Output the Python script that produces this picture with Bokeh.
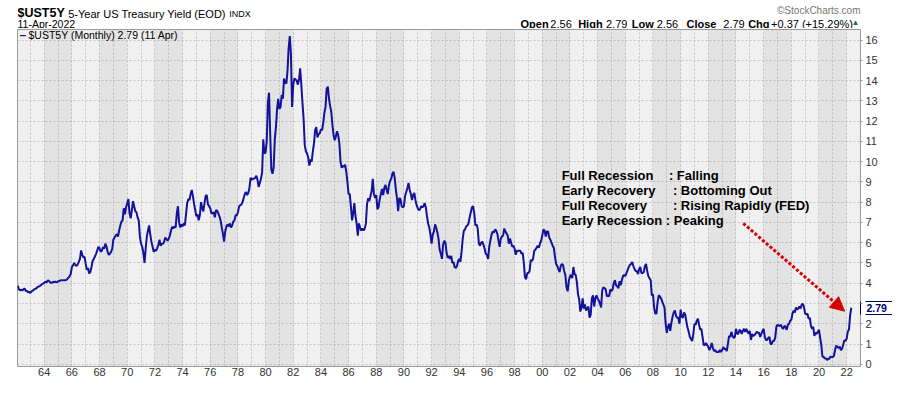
from bokeh.plotting import figure
from bokeh.layouts import column
from bokeh.models import (FixedTicker, CustomJSTickFormatter, Label, BoxAnnotation,
                          Arrow, NormalHead, Range1d, ColumnDataSource, LinearAxis)
from bokeh.embed import file_html
from bokeh.resources import INLINE

# ---------------- data (monthly close, 5-Year US Treasury Yield, %) ----------------
START_YEAR = 1962
Y_1960S = [
    3.88, 3.70, 3.65, 3.68, 3.64, 3.70, 3.74, 3.62, 3.62, 3.55, 3.58, 3.52,
    3.60, 3.63, 3.68, 3.72, 3.74, 3.80, 3.84, 3.85, 3.90, 3.95, 3.98, 4.02,
    4.07, 4.04, 4.14, 4.12, 4.05, 4.02, 4.03, 4.06, 4.08, 4.06, 4.05, 4.10,
    4.10, 4.14, 4.15, 4.14, 4.15, 4.15, 4.16, 4.20, 4.27, 4.34, 4.46, 4.80,
    4.88, 5.00, 4.90, 4.85, 4.92, 5.05, 5.20, 5.62, 5.40, 5.28, 5.30, 4.95,
    4.66, 4.75, 4.48, 4.55, 4.80, 5.10, 5.20, 5.32, 5.45, 5.62, 5.80, 5.72,
    5.55, 5.60, 5.78, 5.70, 5.95, 5.82, 5.55, 5.40, 5.45, 5.55, 5.70, 6.15,
    6.25, 6.35, 6.42, 6.30, 6.60, 6.85, 7.05, 7.10, 7.70, 7.40, 7.75, 7.95,
]
Y_1970S = [
    8.15, 7.45, 7.20, 7.60, 8.05, 7.80, 7.55, 7.50, 7.25, 7.10, 6.30, 5.95,
    5.80, 5.50, 5.00, 5.70, 6.30, 6.60, 6.85, 6.40, 6.05, 5.80, 5.55, 5.65,
    5.60, 5.72, 5.90, 6.15, 5.85, 5.95, 5.95, 6.05, 6.25, 6.18, 6.10, 6.20,
    6.35, 6.60, 6.78, 6.70, 6.80, 6.75, 7.45, 7.80, 7.00, 6.75, 6.90, 6.80,
    6.95, 6.85, 7.40, 7.95, 8.15, 8.10, 8.40, 8.60, 8.30, 7.90, 7.60, 7.30,
    7.40, 7.10, 7.35, 8.00, 7.70, 7.55, 7.95, 8.30, 8.35, 7.90, 7.80, 7.70,
    7.45, 7.45, 7.50, 7.25, 7.60, 7.58, 7.45, 7.30, 7.10, 6.75, 6.45, 6.05,
    6.55, 6.80, 6.90, 6.80, 6.95, 6.75, 6.85, 7.05, 7.10, 7.35, 7.35, 7.50,
    7.78, 7.85, 7.88, 8.00, 8.20, 8.40, 8.50, 8.35, 8.45, 8.70, 9.20, 9.10,
    9.15, 9.15, 9.20, 9.30, 9.10, 8.75, 8.95, 9.15, 9.45, 11.10, 10.40, 10.45,
]
Y_1980S = [
    11.00, 12.90, 13.40, 11.40, 9.60, 9.40, 9.70, 11.10, 11.70, 12.60, 13.10, 12.60,
    12.70, 13.30, 13.10, 14.10, 13.90, 13.85, 14.45, 15.60, 16.20, 15.30, 12.70, 13.80,
    14.10, 14.05, 14.00, 13.80, 14.05, 14.60, 13.80, 12.90, 12.10, 10.80, 10.50, 10.40,
    10.20, 9.80, 10.10, 10.00, 10.50, 10.90, 11.55, 11.70, 11.20, 11.35, 11.40, 11.60,
    11.55, 11.90, 12.40, 12.70, 13.60, 13.70, 13.10, 12.75, 12.45, 11.80, 11.30, 11.05,
    11.25, 11.50, 11.30, 10.90, 10.00, 9.70, 9.80, 9.75, 9.85, 9.50, 9.00, 8.40,
    8.40, 7.80, 7.10, 7.45, 7.95, 7.30, 6.95, 6.35, 6.95, 6.75, 6.60, 6.70,
    6.60, 6.70, 6.95, 7.90, 8.20, 8.05, 8.30, 8.55, 9.15, 8.40, 8.20, 8.35,
    7.65, 7.75, 8.15, 8.40, 8.65, 8.35, 8.70, 8.85, 8.60, 8.40, 8.85, 9.05,
    9.15, 9.40, 9.50, 9.20, 8.60, 8.20, 7.55, 8.20, 8.15, 7.80, 7.75, 7.80,
]
Y_1990S = [
    8.30, 8.50, 8.70, 8.95, 8.60, 8.40, 8.10, 8.35, 8.45, 8.10, 7.85, 7.70,
    7.60, 7.65, 7.80, 7.75, 7.80, 7.95, 7.75, 7.30, 6.95, 6.75, 6.40, 5.95,
    6.40, 6.55, 6.90, 6.75, 6.50, 6.20, 5.65, 5.45, 5.20, 5.90, 6.10, 6.00,
    5.50, 5.25, 5.35, 5.20, 5.35, 5.00, 5.05, 4.80, 4.75, 4.85, 5.10, 5.20,
    5.05, 5.55, 6.20, 6.60, 6.65, 6.80, 6.85, 6.95, 7.25, 7.50, 7.75, 7.80,
    7.45, 6.85, 6.90, 6.70, 5.95, 5.85, 6.00, 6.05, 5.90, 5.70, 5.45, 5.40,
    5.20, 5.80, 6.10, 6.40, 6.55, 6.50, 6.65, 6.60, 6.45, 6.10, 5.80, 6.20,
    6.30, 6.35, 6.70, 6.55, 6.45, 6.35, 5.95, 6.20, 6.00, 5.80, 5.85, 5.70,
    5.40, 5.60, 5.60, 5.60, 5.60, 5.45, 5.50, 5.00, 4.30, 4.20, 4.50, 4.50,
    4.60, 5.15, 5.10, 5.20, 5.60, 5.65, 5.75, 5.85, 5.75, 5.95, 6.10, 6.35,
]
Y_2000S = [
    6.65, 6.60, 6.30, 6.55, 6.55, 6.25, 6.15, 6.00, 5.85, 5.75, 5.30, 4.95,
    4.85, 4.70, 4.55, 4.85, 4.95, 4.90, 4.60, 4.40, 3.80, 3.60, 4.10, 4.35,
    4.40, 4.25, 4.80, 4.45, 4.40, 4.05, 3.45, 3.20, 2.60, 2.80, 3.25, 2.75,
    2.95, 2.65, 2.75, 2.85, 2.30, 2.45, 3.25, 3.40, 2.85, 3.25, 3.40, 3.25,
    3.15, 3.00, 2.80, 3.65, 3.80, 3.75, 3.70, 3.35, 3.40, 3.35, 3.70, 3.60,
    3.70, 4.00, 4.15, 3.90, 3.85, 3.75, 4.10, 3.90, 4.15, 4.35, 4.40, 4.35,
    4.50, 4.65, 4.80, 4.90, 4.95, 5.05, 4.85, 4.70, 4.60, 4.60, 4.45, 4.70,
    4.80, 4.50, 4.50, 4.55, 4.85, 4.95, 4.60, 4.35, 4.25, 4.15, 3.40, 3.45,
    2.80, 2.50, 2.50, 3.05, 3.40, 3.35, 3.25, 3.10, 2.95, 2.80, 2.00, 1.55,
    1.85, 2.00, 1.65, 2.05, 2.35, 2.55, 2.65, 2.40, 2.30, 2.30, 2.00, 2.70,
]
Y_2010S = [
    2.35, 2.30, 2.55, 2.45, 2.10, 1.80, 1.60, 1.35, 1.25, 1.15, 1.50, 2.00,
    1.95, 2.15, 2.25, 1.95, 1.70, 1.75, 1.35, 0.95, 0.95, 1.05, 0.95, 0.85,
    0.70, 0.85, 1.05, 0.80, 0.65, 0.70, 0.60, 0.60, 0.60, 0.70, 0.60, 0.70,
    0.85, 0.75, 0.75, 0.65, 1.00, 1.40, 1.35, 1.60, 1.40, 1.30, 1.35, 1.75,
    1.50, 1.50, 1.70, 1.65, 1.50, 1.65, 1.75, 1.60, 1.75, 1.60, 1.50, 1.65,
    1.20, 1.50, 1.40, 1.45, 1.50, 1.60, 1.55, 1.55, 1.35, 1.50, 1.65, 1.75,
    1.35, 1.20, 1.20, 1.30, 1.35, 1.00, 1.00, 1.15, 1.15, 1.30, 1.85, 1.95,
    1.90, 1.90, 1.95, 1.80, 1.75, 1.90, 1.85, 1.70, 1.95, 2.00, 2.15, 2.20,
    2.50, 2.65, 2.55, 2.80, 2.70, 2.75, 2.85, 2.75, 2.95, 2.98, 2.82, 2.50,
    2.45, 2.50, 2.25, 2.30, 1.90, 1.75, 1.85, 1.40, 1.55, 1.50, 1.60, 1.70,
]
Y_2020S = [
    1.30, 0.95, 0.38, 0.36, 0.30, 0.29, 0.21, 0.27, 0.27, 0.38, 0.36, 0.36,
    0.42, 0.73, 0.92, 0.85, 0.80, 0.87, 0.69, 0.77, 0.96, 1.18, 1.16, 1.26,
    1.62, 1.71, 2.42, 2.79,
]

X_TICK_YEARS = list(range(1964, 2023, 2))
GRID_YEARS = list(range(1963, 2023))
Y_TICKS = list(range(0, 17))
LAST_VALUE = 2.79

STAGE_LABELS = ["Full Recession", "Early Recovery", "Full Recovery", "Early Recession"]
STAGE_TEXTS = [": Falling", ": Bottoming Out", ": Rising Rapidly (FED)", ": Peaking"]

yields = Y_1960S + Y_1970S + Y_1980S + Y_1990S + Y_2000S + Y_2010S + Y_2020S
dates = [START_YEAR + (i + 1) / 12 for i in range(len(yields))]
src = ColumnDataSource(dict(x=dates, y=yields))

FONT = "Liberation Sans"
NAVY = "#12129a"
TAG = "#000066"
W = 892          # total width
HH = 28          # header strip height
H = 352          # chart height  (HH + H = 380)
FL, FT = 17, 1   # frame left / top inside the chart figure
FR = 865         # frame right
FB = 338         # frame bottom (chart-figure pixels)

# ---------------- header strip (its frame is aligned with the chart frame) ----------
hdr = figure(width=W, height=HH, x_range=Range1d(FL, FR), y_range=Range1d(HH, 0),
             x_axis_location=None, y_axis_location=None, toolbar_location=None,
             output_backend="svg", min_border=0)
hdr.outline_line_color = None
hdr.background_fill_color = "white"
hdr.border_fill_color = "white"
hdr.grid.visible = False


def hlab(text, x, y, size="11px", style="normal", color="black", align="left"):
    hdr.add_layout(Label(x=x, y=y, text=text, text_font=FONT, text_font_size=size,
                         text_font_style=style, text_color=color, text_align=align,
                         text_baseline="middle"))


hlab("$UST5Y", 17, 12, size="12.5px", style="bold")
hlab("5-Year US Treasury Yield (EOD)", 68, 13)
hlab("INDX", 230, 13, size="9px")
hlab("11-Apr-2022", 17, 23, size="10.5px")
hlab("\u00a9StockCharts.com", 865, 10, size="10px", color="#777777", align="right")
for t, x, s in [("Open", 523, "bold"), ("2.56", 553, "normal"), ("High", 581, "bold"),
                ("2.79", 609, "normal"), ("Low", 635, "bold"), ("2.56", 660, "normal"),
                ("Close", 690, "bold"), ("2.79", 727, "normal"), ("Chg", 752, "bold"),
                ("+0.37 (+15.29%)", 775, "normal")]:
    hlab(t, x, 23, style=s)
hlab("\u25b2", 860, 22, size="8px", color="#2e6b2e", align="center")

# ---------------- main chart ----------------
p = figure(width=W, height=H,
           x_range=Range1d(1962.07, 2023.0), y_range=Range1d(-0.11, 16.52),
           y_axis_location="right", toolbar_location=None, output_backend="svg",
           min_border_left=FL, min_border_right=W - FR, min_border_top=FT,
           min_border_bottom=H - FB)

p.background_fill_color = "#f0f0f0"
p.border_fill_color = "white"
p.outline_line_color = "#9a9a9a"

# alternating shaded bands (2-year blocks every 4 years)
for yr in range(1964, 2023, 4):
    p.add_layout(BoxAnnotation(left=yr, right=yr + 2, fill_color="black", fill_alpha=0.05,
                               line_alpha=0, level="underlay"))

p.xgrid.ticker = FixedTicker(ticks=GRID_YEARS)
p.ygrid.ticker = FixedTicker(ticks=Y_TICKS)
for g in (p.xgrid, p.ygrid):
    g.grid_line_color = "#c4c4c4"
    g.grid_line_dash = "2 2"
    g.grid_line_width = 1

p.xaxis.ticker = FixedTicker(ticks=X_TICK_YEARS)
p.xaxis.formatter = CustomJSTickFormatter(
    code="const y = Math.round(tick) % 100; return (y < 10 ? '0' : '') + y;")
p.xaxis.axis_line_color = None
p.xaxis.major_tick_line_color = None
p.xaxis.major_tick_out = 0
p.xaxis.major_tick_in = 0
p.xaxis.minor_tick_line_color = None
p.xaxis.minor_tick_out = 0
p.xaxis.major_label_standoff = 1
p.xaxis.major_label_text_font = FONT
p.xaxis.major_label_text_font_size = "11px"
p.xaxis.major_label_text_color = "#333333"

main_y = p.yaxis[0]
main_y.ticker = FixedTicker(ticks=Y_TICKS)
main_y.axis_line_color = None
main_y.major_tick_line_color = "#999999"
main_y.major_tick_in = 0
main_y.major_tick_out = 2
main_y.minor_tick_line_color = None
main_y.minor_tick_out = 0
main_y.major_label_standoff = 3
main_y.major_label_text_font = FONT
main_y.major_label_text_font_size = "11px"
main_y.major_label_text_color = "#333333"
# the "3" tick label sits under the last-value tag in the reference
main_y.major_label_overrides = {3: ""}

# ----- last-value tag built from extra right axes (box edges + bold value) -----
TAG_HALF = 0.32
lo, hi = LAST_VALUE - TAG_HALF, LAST_VALUE + TAG_HALF

edge_axis = LinearAxis(ticker=FixedTicker(ticks=[]), bounds=(lo, hi))
edge_axis.axis_line_color = TAG
edge_axis.major_tick_in = 0
edge_axis.major_tick_out = 0
edge_axis.minor_tick_in = 0
edge_axis.minor_tick_out = 0
edge_axis.major_label_standoff = 0

tag_axis = LinearAxis(ticker=FixedTicker(ticks=[LAST_VALUE]))
tag_axis.axis_line_color = None
tag_axis.major_tick_line_color = None
tag_axis.major_tick_in = 0
tag_axis.major_tick_out = 0
tag_axis.minor_tick_line_color = None
tag_axis.minor_tick_out = 0
tag_axis.major_label_standoff = -17
tag_axis.major_label_overrides = {LAST_VALUE: "\u00a02.79\u00a0"}
tag_axis.major_label_text_font = FONT
tag_axis.major_label_text_font_size = "10.5px"
tag_axis.major_label_text_font_style = "bold"
tag_axis.major_label_text_color = TAG

box_axis = LinearAxis(ticker=FixedTicker(ticks=[lo, hi]), bounds=(lo, hi))
box_axis.axis_line_color = TAG
box_axis.major_tick_line_color = TAG
box_axis.major_tick_in = 27
box_axis.major_tick_out = 0
box_axis.minor_tick_line_color = None
box_axis.minor_tick_in = 0
box_axis.minor_tick_out = 0
box_axis.major_label_standoff = 0
box_axis.major_label_overrides = {lo: "", hi: ""}

p.right = [edge_axis] + list(p.right) + [tag_axis, box_axis]

# the series
p.line("x", "y", source=src, line_color=NAVY, line_width=2)


def lab(text, x, y, size="11px", style="normal", color="black", xu="data", yu="data"):
    p.add_layout(Label(x=x, y=y, x_units=xu, y_units=yu, text=text, text_font=FONT,
                       text_font_size=size, text_font_style=style, text_color=color,
                       text_align="left", text_baseline="middle"))


# legend (screen units, relative to frame: x from left, y from bottom)
LEG_Y = FB - 6
lab("\u2013", 2, LEG_Y, size="12px", style="bold", color=NAVY, xu="screen", yu="screen")
lab("$UST5Y (Monthly) 2.79 (11 Apr)", 11, LEG_Y, size="10.5px", xu="screen", yu="screen")

# stage annotation block (data units)
STAGE_Y = [9.30, 8.57, 7.84, 7.11]
COLON_X = [2009.15, 2009.44, 2009.44, 2008.93]
for name, desc, yv, cx in zip(STAGE_LABELS, STAGE_TEXTS, STAGE_Y, COLON_X):
    lab(name, 2001.40, yv, size="13px", style="bold")
    lab(desc, cx, yv, size="13px", style="bold")

# red dashed arrow
p.add_layout(Arrow(end=NormalHead(size=14, fill_color="#d40000", line_color="#d40000"),
                   x_start=2014.53, y_start=6.95, x_end=2021.85, y_end=2.62,
                   line_color="#d40000", line_width=3, line_dash="3 2"))

layout = column(hdr, p, spacing=0)
open("out.html", "w").write(file_html(layout, INLINE))
